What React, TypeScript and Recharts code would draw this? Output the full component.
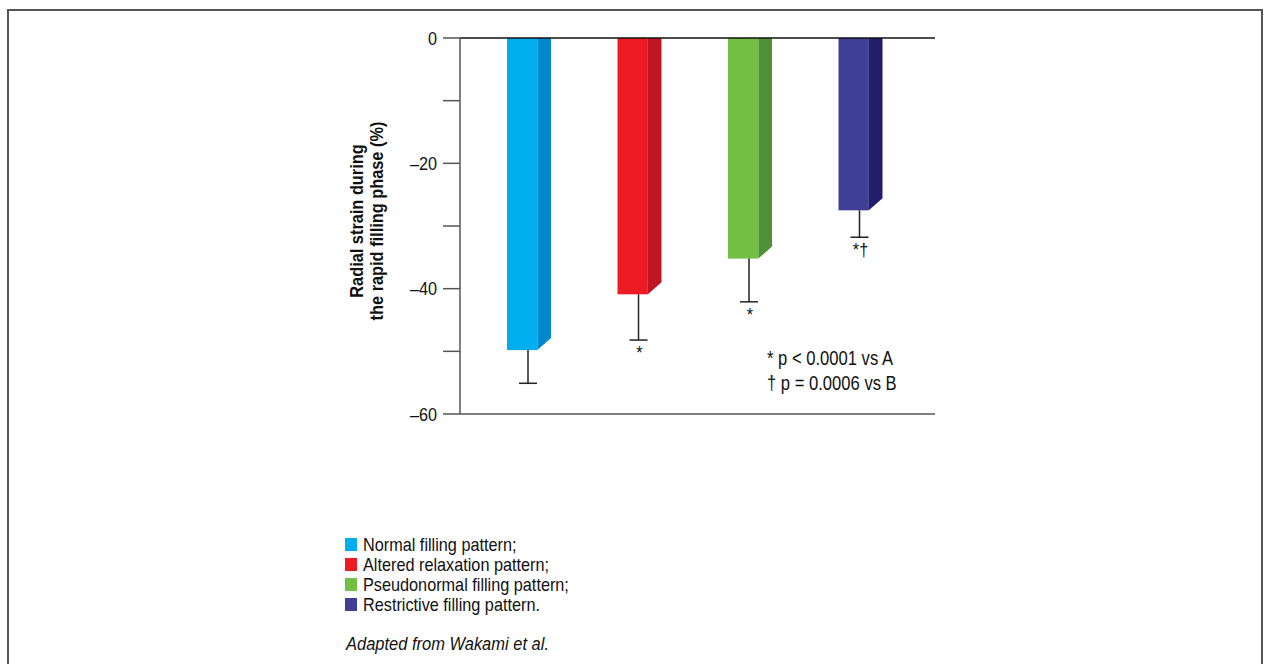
import { BarChart, Bar, XAxis, YAxis, ReferenceLine, LabelList } from 'recharts';

const groups = ['A', 'B', 'C', 'D'];
const legendNames = [
  'Normal filling pattern;',
  'Altered relaxation pattern;',
  'Pseudonormal filling pattern;',
  'Restrictive filling pattern.'
];
const meanStrain = [-49.8, -40.9, -35.2, -27.5];
const sdStrain = [5.3, 7.3, 6.9, 4.3];
const sigMarks = ['', '*', '*', '*\u2020'];
const yTicks = [0, -10, -20, -30, -40, -50, -60];
const noteLines = ['* p < 0.0001 vs A', '\u2020 p = 0.0006 vs B'];

const frontColors = ['#00aeef', '#ed1c24', '#72bf44', '#3f3f96'];
const sideColors = ['#0088cf', '#be1622', '#4f9135', '#221f6a'];

const FONT = "'Liberation Sans', Arial, sans-serif";
// the original uses a condensed sans; squeeze regular glyphs horizontally
const SQUEEZE = 0.855;

const rows = groups.map((g, i) => ({
  group: g,
  mean: meanStrain[i],
  errRange: [meanStrain[i], meanStrain[i] - sdStrain[i]],
  sig: sigMarks[i]
}));

// front face + darker side face with a slanted bottom
const BarShape = (props: any) => {
  const { x, y, width, height, index } = props;
  const top = Math.min(y, y + height);
  const bottom = Math.max(y, y + height);
  const frontW = width * 0.69;
  const sideX = x + frontW;
  return (
    <g>
      <rect x={x} y={top} width={frontW} height={bottom - top} fill={frontColors[index]} />
      <polygon
        points={`${sideX},${top} ${x + width},${top - 1} ${x + width},${bottom - 12} ${sideX},${bottom}`}
        fill={sideColors[index]}
      />
    </g>
  );
};

// one-sided error bar (downwards only)
const ErrShape = (props: any) => {
  const { x, y, width, height } = props;
  const top = Math.min(y, y + height);
  const bottom = Math.max(y, y + height);
  const cx = x + width / 2 - 1;
  return (
    <g stroke="#222" strokeWidth={1.5}>
      <line x1={cx} y1={top} x2={cx} y2={bottom} />
      <line x1={cx - 9} y1={bottom} x2={cx + 9} y2={bottom} />
    </g>
  );
};

const SigLabel = (props: any) => {
  const { x, y, width, height, value } = props;
  if (!value) return null;
  const bottom = Math.max(y, y + height);
  return (
    <g transform={`translate(${x + width / 2}, ${bottom + 19})`}>
      <text transform={`scale(${SQUEEZE},1)`} textAnchor="middle" fontSize={19} fontFamily={FONT} fill="#111">
        {value}
      </text>
    </g>
  );
};

const YTick = (props: any) => {
  const { x, y, payload } = props;
  const v = payload.value;
  if (v % 20 !== 0) return null;
  const label = v === 0 ? '0' : '\u2013' + Math.abs(v);
  return (
    <g transform={`translate(${x}, ${y})`}>
      <text transform={`scale(${SQUEEZE},1)`} textAnchor="end" dy="0.355em" fontSize={19} fontFamily={FONT} fill="#111">
        {label}
      </text>
    </g>
  );
};

const squeezed = (s: number): any => ({ display: 'inline-block', transform: `scaleX(${s})`, transformOrigin: 'left center', whiteSpace: 'nowrap' });

const App = () => {
  return (
    <div style={{ position: 'absolute', left: 0, top: 0, width: 1264, height: 664, overflow: 'hidden', background: '#fff', fontFamily: FONT }}>
      <div style={{ position: 'absolute', left: 7, top: 9, width: 1256, height: 720, border: '2px solid #555', boxSizing: 'border-box' }} />

      <div style={{ position: 'absolute', left: 0, top: 0 }}>
        <BarChart
          width={1264}
          height={664}
          data={rows}
          margin={{ top: 38, right: 329, bottom: 250, left: 400 }}
          barSize={44}
          barGap={-44}
        >
          <XAxis dataKey="group" hide padding={{ left: 14, right: 19 }} />
          <YAxis
            domain={[-60, 0]}
            ticks={yTicks}
            interval={0}
            allowDataOverflow
            width={60}
            tickSize={17}
            tickMargin={6}
            axisLine={{ stroke: '#555', strokeWidth: 1.5 }}
            tickLine={{ stroke: '#555', strokeWidth: 1.5 }}
            tick={<YTick />}
          />
          <ReferenceLine y={-60} stroke="#555" strokeWidth={1.5} />
          <Bar dataKey="mean" shape={<BarShape />} isAnimationActive={false} />
          <Bar dataKey="errRange" shape={<ErrShape />} isAnimationActive={false}>
            <LabelList dataKey="sig" content={<SigLabel />} />
          </Bar>
          <ReferenceLine y={0} stroke="#111" strokeWidth={1.5} />
        </BarChart>
      </div>

      {/* y axis title */}
      <div
        style={{
          position: 'absolute', left: 217, top: 201, width: 300, height: 40,
          transform: 'rotate(-90deg) scaleX(0.86)', textAlign: 'center', fontWeight: 'bold',
          fontSize: 19, lineHeight: '20px', color: '#111', whiteSpace: 'nowrap'
        }}
      >
        <div>Radial strain during</div>
        <div>the rapid filling phase (%)</div>
      </div>

      {/* significance note */}
      <div style={{ position: 'absolute', left: 767, top: 346, fontSize: 20, lineHeight: '25px', color: '#111' }}>
        {noteLines.map((t) => (
          <div key={t} style={{ height: 25 }}>
            <span style={squeezed(0.83)}>{t}</span>
          </div>
        ))}
      </div>

      {/* legend */}
      <div style={{ position: 'absolute', left: 345, top: 535, fontSize: 19, lineHeight: '20px', color: '#111' }}>
        {legendNames.map((name, i) => (
          <div key={name} style={{ display: 'flex', alignItems: 'flex-start', height: 20 }}>
            <span style={{ display: 'inline-block', flex: 'none', width: 12, height: 13, marginTop: 3, marginRight: 6, background: frontColors[i] }} />
            <span style={squeezed(SQUEEZE)}>{name}</span>
          </div>
        ))}
      </div>
      <div style={{ position: 'absolute', left: 346, top: 634, fontSize: 19, lineHeight: '20px', fontStyle: 'italic', color: '#111' }}>
        <span style={squeezed(0.867)}>Adapted from Wakami et al.</span>
      </div>
    </div>
  );
};

export default App;
